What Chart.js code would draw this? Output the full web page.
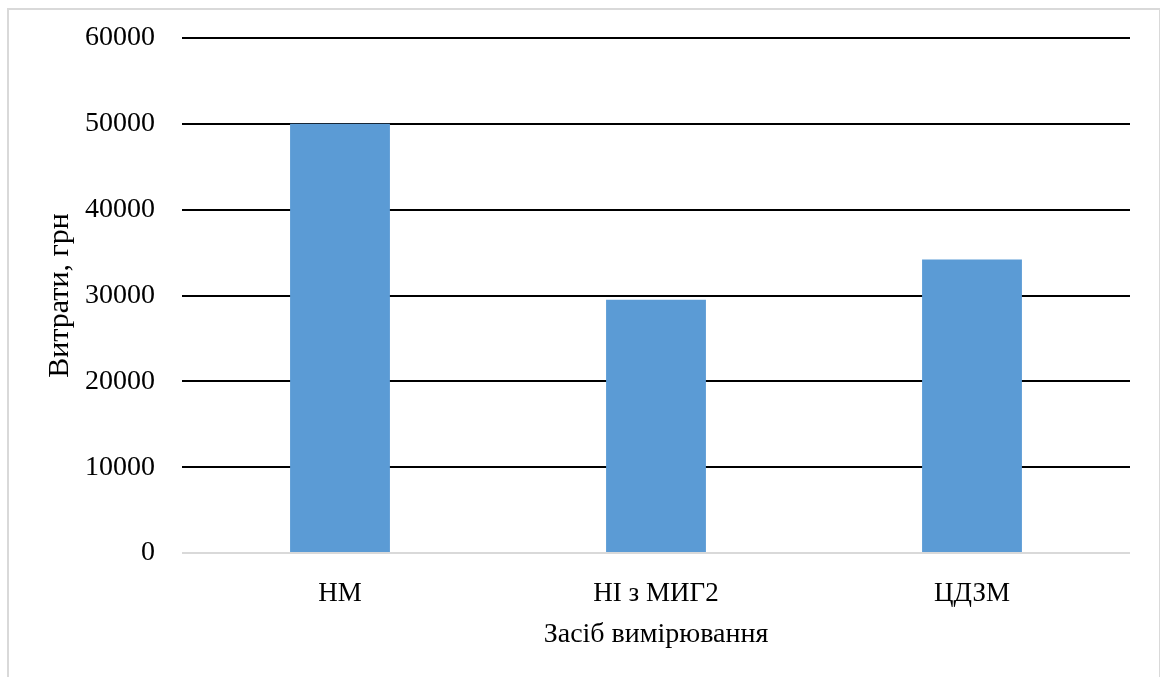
<!DOCTYPE html>
<html>
<head>
<meta charset="utf-8">
<script src="https://cdn.jsdelivr.net/npm/chart.js@4"></script>
<style>
    html, body { margin: 0; padding: 0; background: #fff; }
    .frame {
        position: absolute;
        left: 7px;
        top: 8px;
        width: 1150px;
        height: 700px;
        border: 2px solid #d9d9d9;
    }
    #chart {
        position: absolute;
        left: 0;
        top: 0;
    }
</style>
</head>
<body>
<div class="frame"></div>
<canvas id="chart" width="1160" height="677"></canvas>
<script>
const categories = ["НМ", "НІ з МИГ2", "ЦДЗМ"];
const costs = [50000, 29500, 34200];
const yTicks = [0, 10000, 20000, 30000, 40000, 50000, 60000];

const serif = "'Liberation Serif', 'Times New Roman', serif";

new Chart(document.getElementById("chart"), {
    type: "bar",
    data: {
        labels: categories,
        datasets: [
            {
                data: costs,
                backgroundColor: "#5b9bd5",
                borderWidth: 0,
                barPercentage: 0.316,
                categoryPercentage: 1,
            },
        ],
    },
    options: {
        responsive: false,
        animation: false,
        devicePixelRatio: 1,
        layout: {
            padding: { top: 38, right: 30, bottom: 0, left: 0 },
        },
        plugins: {
            legend: false,
            tooltip: { enabled: false },
        },
        scales: {
            x: {
                afterFit(scale) {
                    scale.height = 124;
                },
                grid: { display: false },
                border: { display: false },
                ticks: {
                    color: "#000",
                    padding: 17,
                    font: { family: serif, size: 27 },
                },
                title: {
                    display: true,
                    text: "Засіб вимірювання",
                    color: "#000",
                    font: { family: serif, size: 28 },
                    padding: { top: 0, bottom: 26 },
                },
            },
            y: {
                min: yTicks[0],
                max: yTicks[yTicks.length - 1],
                afterFit(scale) {
                    scale.width = 182;
                    // tick padding would otherwise push the plot area down
                    scale.paddingTop = 0;
                    scale.paddingBottom = 0;
                },
                afterBuildTicks(scale) {
                    scale.ticks = yTicks.map((v) => ({ value: v }));
                },
                grid: {
                    drawTicks: false,
                    lineWidth: 2,
                    // the zero line is pale grey, the rest are black
                    color: (ctx) => (ctx.tick && ctx.tick.value === 0 ? "#d9d9d9" : "#000"),
                },
                border: { display: false },
                ticks: {
                    color: "#000",
                    padding: 27,
                    font: { family: serif, size: 28 },
                    callback: (value) => String(value),
                },
                title: {
                    display: true,
                    text: "Витрати, грн",
                    color: "#000",
                    font: { family: serif, size: 30 },
                    padding: { top: 42, bottom: 0 },
                },
            },
        },
    },
});
</script>
</body>
</html>
